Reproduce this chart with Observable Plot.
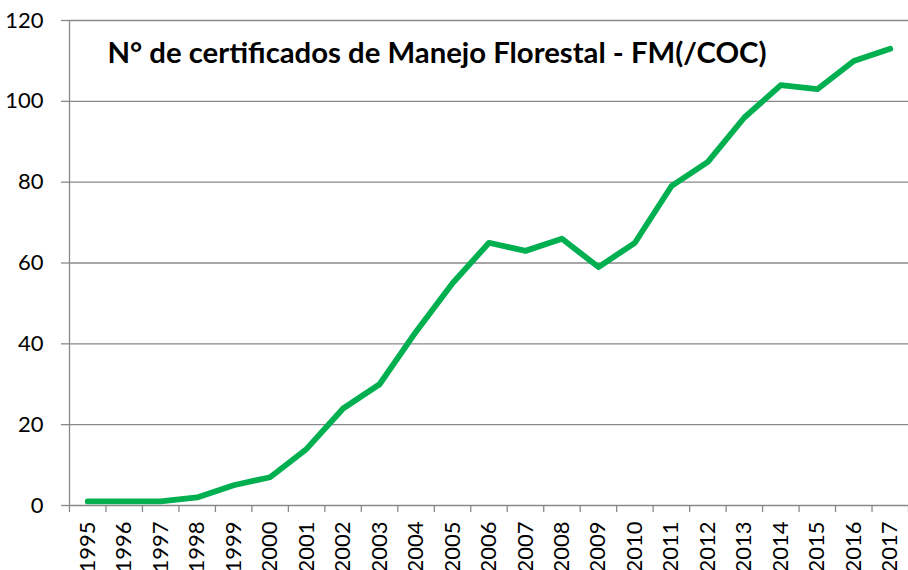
<!DOCTYPE html>
<html>
<head>
<meta charset="utf-8">
<script src="https://cdn.jsdelivr.net/npm/d3@7"></script>
<script src="https://cdn.jsdelivr.net/npm/@observablehq/plot@0.6"></script>
<style>
  html, body { margin: 0; padding: 0; background: #fff; }
  #chart svg { display: block; }
</style>
</head>
<body>
<div id="chart"></div>
<script>
const years = [1995,1996,1997,1998,1999,2000,2001,2002,2003,2004,2005,2006,2007,2008,2009,2010,2011,2012,2013,2014,2015,2016,2017];
const certificados = [1,1,1,2,5,7,14,24,30,43,55,65,63,66,59,65,79,85,96,104,103,110,113];
const yTicks = [0,20,40,60,80,100,120];
const title = "N° de certificados de Manejo Florestal - FM(/COC)";

const data = years.map((y, i) => ({year: y, value: certificados[i]}));
const boundaries = years.map(y => y - 0.5).concat([years[years.length - 1] + 0.5]);
const gray = "#898989";
const font = "Lato, 'Open Sans', sans-serif";

const chart = Plot.plot({
  width: 908,
  height: 570,
  marginLeft: 69,
  marginRight: 0,
  marginTop: 20,
  marginBottom: 65,
  style: {fontFamily: font, background: "#fff", color: "#000"},
  x: {type: "linear", domain: [boundaries[0], boundaries[boundaries.length - 1]], label: null},
  y: {domain: [0, 120], label: null},
  marks: [
    Plot.gridY(yTicks, {stroke: gray, strokeOpacity: 1, strokeWidth: 1.3}),
    Plot.axisY(yTicks, {tickSize: 8, text: null, stroke: gray, strokeWidth: 1.3, label: null}),
    Plot.axisY(yTicks, {tickSize: 0, tickPadding: 26, fontSize: 22, fill: "#000", label: null}),
    Plot.ruleX([boundaries[0]], {stroke: gray, strokeWidth: 1.3}),
    Plot.axisX(boundaries, {tickSize: 7, text: null, stroke: gray, strokeWidth: 1.3, label: null}),
    Plot.axisX(years, {tickSize: 0, tickPadding: 16, tickRotate: -90, tickFormat: d => String(d), fontSize: 22, fill: "#000", label: null}),
    Plot.lineY(data, {x: "year", y: "value", stroke: "#00B050", strokeWidth: 5.8, strokeLinecap: "round", strokeLinejoin: "round"}),
    Plot.text([title], {frameAnchor: "top-left", text: d => d, dx: 38, dy: 33, fontSize: 29.3, fontWeight: "bold", textAnchor: "start", lineAnchor: "middle", fill: "#000"})
  ]
});
document.getElementById("chart").appendChild(chart);
</script>
</body>
</html>
